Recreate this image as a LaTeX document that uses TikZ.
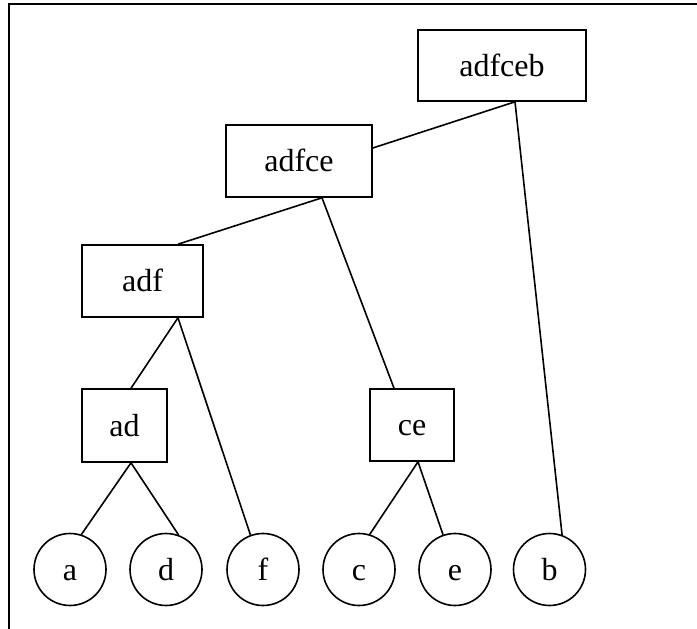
\documentclass[tikz,border=0pt]{standalone}
\usepackage{fontspec}
\setmainfont{Liberation Serif}
\begin{document}
\begin{tikzpicture}[x=1pt,y=-1pt,
  lbl/.style={inner sep=0pt,text height=24pt,text depth=3pt,font=\fontsize{32}{34}\selectfont},
  box/.style={lbl,draw,line width=1.6pt},
  leaf/.style={lbl,draw,circle,line width=1.6pt,minimum size=72pt},
  edge/.style={line width=1.6pt},
  frame/.style={line width=2.6pt}]
\useasboundingbox (0,0) rectangle (697,629);
\coordinate (tl) at (9,4);
\coordinate (tr) at (697,4);
\coordinate (bl) at (9,629);
\draw[frame] (tr) -- (tl) -- (bl);
% boxes
\node[box,minimum width=168pt,minimum height=71pt] (adfceb) at (502,65.5) {adfceb};
\node[box,minimum width=146pt,minimum height=72pt] (adfce) at (299,161) {adfce};
\node[box,minimum width=121pt,minimum height=72pt] (adf) at (142.5,281) {adf};
\node[box,minimum width=85pt,minimum height=73pt] (ad) at (124.5,425.5) {ad};
\node[box,minimum width=84pt,minimum height=72pt] (ce) at (412,425) {ce};
% leaves
\node[leaf] (a) at (70,569.5) {a};
\node[leaf] (d) at (166,569.5) {d};
\node[leaf] (f) at (263,569.5) {f};
\node[leaf] (c) at (359,569.5) {c};
\node[leaf] (e) at (455,569.5) {e};
\node[leaf] (b) at (549.5,569.5) {b};
% edges
\draw[edge] ([xshift=13pt]adfceb.south) -- ([yshift=13pt]adfce.east);
\draw[edge] ([xshift=13pt]adfceb.south) -- (b.70);
\draw[edge] ([xshift=23pt]adfce.south) -- ([xshift=35.5pt]adf.north);
\draw[edge] ([xshift=23pt]adfce.south) -- ([xshift=-18pt]ce.north);
\draw[edge] ([xshift=35.5pt]adf.south) -- ([xshift=6.5pt]ad.north);
\draw[edge] ([xshift=35.5pt]adf.south) -- (f.110);
\draw[edge] ([xshift=6.5pt]ad.south) -- (a.72);
\draw[edge] ([xshift=6.5pt]ad.south) -- (d.70);
\draw[edge] ([xshift=6pt]ce.south) -- (c.73);
\draw[edge] ([xshift=6pt]ce.south) -- (e.109);
\end{tikzpicture}
\end{document}
